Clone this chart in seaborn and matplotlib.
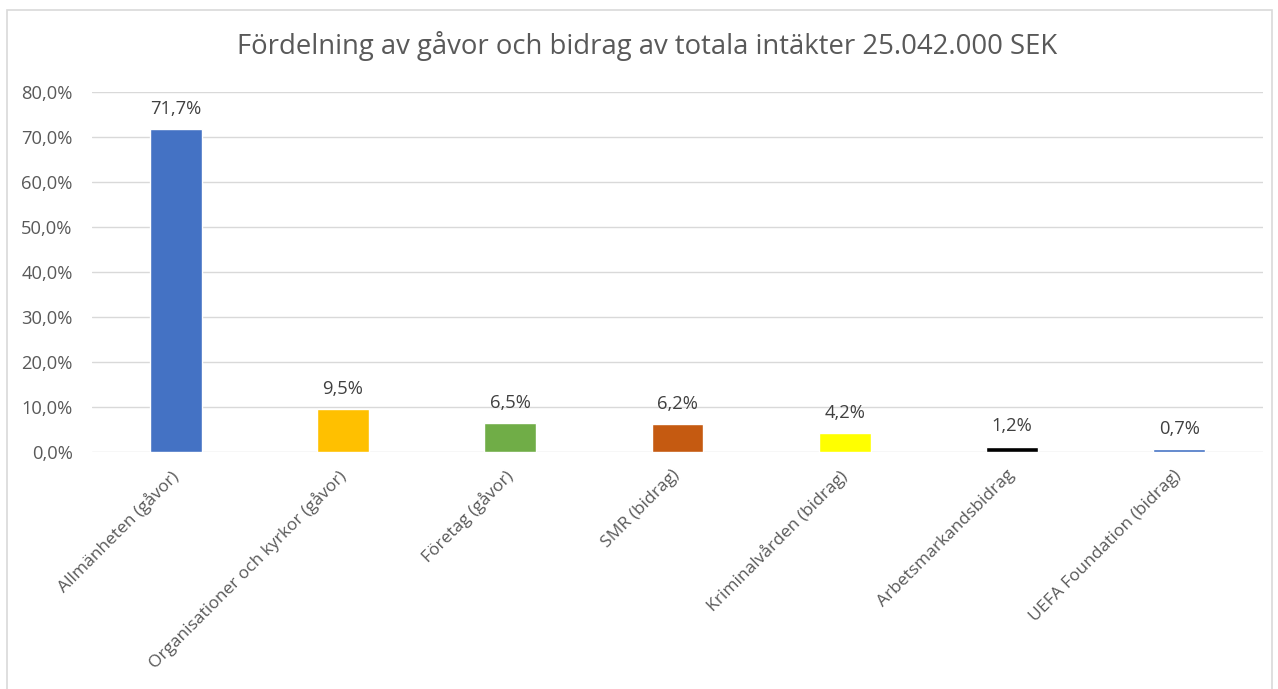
import matplotlib
matplotlib.use("Agg")
import matplotlib.pyplot as plt
import matplotlib.transforms as mtransforms
import seaborn as sns
import pandas as pd
from matplotlib.patches import Rectangle
from matplotlib.ticker import FuncFormatter

categories = [
    "Allmänheten (gåvor)",
    "Organisationer och kyrkor (gåvor)",
    "Företag (gåvor)",
    "SMR (bidrag)",
    "Kriminalvården (bidrag)",
    "Arbetsmarkandsbidrag",
    "UEFA Foundation (bidrag)",
]
values = [71.7, 9.5, 6.5, 6.2, 4.2, 1.2, 0.7]
colors = ["#4472C4", "#FFC000", "#70AD47", "#C55A11", "#FFFF00", "#000000", "#4472C4"]
title = "Fördelning av gåvor och bidrag av totala intäkter 25.042.000 SEK"

sns.set_theme(style="white")
plt.rcParams["font.family"] = ["Open Sans", "DejaVu Sans"]

df = pd.DataFrame({"cat": categories, "val": values})

fig = plt.figure(figsize=(12.78, 6.89), dpi=100)
W, H = 1278, 689
ax = fig.add_axes([92 / W, 1 - 452 / H, (1263 - 92) / W, (452 - 92) / H])

sns.barplot(data=df, x="cat", y="val", hue="cat", palette=colors, legend=False,
            width=0.31, ax=ax, saturation=1, zorder=3)

ax.set_ylim(0, 80)
ax.set_xlim(-0.5, len(categories) - 0.5)
ax.set_yticks([0, 10, 20, 30, 40, 50, 60, 70, 80])
ax.yaxis.set_major_formatter(FuncFormatter(lambda v, p: f"{v:.1f}%".replace(".", ",")))
ax.grid(axis="y", color="#D9D9D9", linewidth=1.0, zorder=0)
ax.grid(axis="x", visible=False)
for s in ax.spines.values():
    s.set_visible(False)
ax.tick_params(axis="both", length=0, colors="#595959")
ax.tick_params(axis="y", pad=14, labelsize=13.2)
ax.set_xlabel("")
ax.set_ylabel("")
ax.set_xticks(range(len(categories)))
ax.set_xticklabels(categories, rotation=45, ha="right", rotation_mode="anchor",
                   fontsize=12.5, color="#595959")
ax.tick_params(axis="x", pad=11)
offset = mtransforms.ScaledTranslation(-6 / 100, 0, fig.dpi_scale_trans)
for lbl in ax.get_xticklabels():
    lbl.set_transform(lbl.get_transform() + offset)

for i, v in enumerate(values):
    ax.annotate(f"{v:.1f}%".replace(".", ","), (i, v), xytext=(0, 8),
                textcoords="offset points", ha="center", va="bottom",
                fontsize=13.2, color="#404040")

fig.text(647 / W, 1 - 46 / H, title, ha="center", va="center", fontsize=19.8, color="#595959")

fig.patches.append(Rectangle((7 / W, -0.05), (1272 - 7) / W, 1 - 10 / H + 0.05,
                             transform=fig.transFigure, fill=False,
                             edgecolor="#D9D9D9", linewidth=1.2))

fig.savefig("out.png", dpi=100)
